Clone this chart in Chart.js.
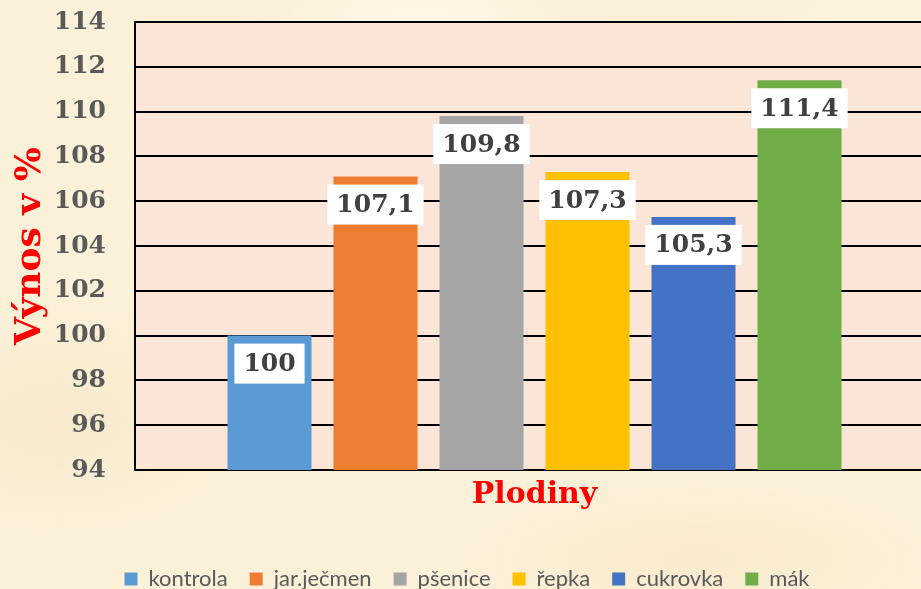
<!DOCTYPE html>
<html>
<head>
<meta charset="utf-8">
<script src="https://cdn.jsdelivr.net/npm/chart.js@4"></script>
<style>
  html, body { margin: 0; padding: 0; overflow: hidden; width: 921px; height: 589px; }
  body {
    background-color: #fbf0d8;
    background-image:
      radial-gradient(ellipse 180px 60px at 420px 20px, rgba(255,250,235,0.8), rgba(255,250,235,0)),
      radial-gradient(ellipse 200px 120px at 60px 420px, rgba(245,232,200,0.7), rgba(245,232,200,0)),
      radial-gradient(ellipse 250px 80px at 700px 560px, rgba(246,232,198,0.6), rgba(246,232,198,0)),
      radial-gradient(ellipse 150px 100px at 880px 40px, rgba(255,248,230,0.7), rgba(255,248,230,0));
  }
  #wrap { position: absolute; left: 0; top: 0; width: 936px; height: 600px; }
</style>
</head>
<body>
<div id="wrap"><canvas id="c" width="936" height="600"></canvas></div>
<script>
const categories = ['kontrola', 'jar.ječmen', 'pšenice', 'řepka', 'cukrovka', 'mák'];
const values = [100, 107.1, 109.8, 107.3, 105.3, 111.4];
const barColors = ['#5B9BD5', '#ED7D31', '#A5A5A5', '#FFC000', '#4472C4', '#70AD47'];
const yMin = 94, yMax = 114, yStep = 2;
const yTitle = 'Výnos v %';
const xTitle = 'Plodiny';

const serif = '"DejaVu Serif", "Liberation Serif", serif';

const plotBg = {
  id: 'plotBg',
  beforeDraw(chart) {
    const {ctx, chartArea: a} = chart;
    ctx.save();
    ctx.fillStyle = '#FAE5D7';
    ctx.fillRect(a.left, a.top, a.right - a.left, a.bottom - a.top);
    ctx.restore();
  }
};

const valueLabels = {
  id: 'valueLabels',
  afterDatasetsDraw(chart) {
    const ctx = chart.ctx;
    ctx.save();
    ctx.font = 'bold 25px ' + serif;
    ctx.textAlign = 'center';
    ctx.textBaseline = 'middle';
    chart.data.datasets.forEach((ds, i) => {
      const meta = chart.getDatasetMeta(i);
      const bar = meta.data[0];
      const txt = String(ds.data[0]).replace('.', ',');
      const w = ctx.measureText(txt).width + 18;
      const h = 40;
      const top = bar.y + 8;
      ctx.fillStyle = '#FFFFFF';
      ctx.fillRect(bar.x - w / 2, top, w, h);
      ctx.fillStyle = '#404040';
      ctx.fillText(txt, bar.x, top + h / 2 + 1);
    });
    ctx.restore();
  }
};

new Chart(document.getElementById('c'), {
  type: 'bar',
  data: {
    labels: [''],
    datasets: categories.map((name, i) => ({
      label: name,
      data: [values[i]],
      backgroundColor: barColors[i],
      borderWidth: 0
    }))
  },
  options: {
    responsive: false,
    animation: false,
    devicePixelRatio: 1,
    categoryPercentage: 0.796,
    barPercentage: 0.7925,
    layout: { padding: { top: 22, right: 2, left: 0, bottom: 0 } },
    plugins: {
      legend: {
        position: 'bottom',
        labels: {
          boxWidth: 13,
          boxHeight: 13,
          padding: 22,
          color: '#595959',
          font: { family: 'Lato, "Open Sans", sans-serif', size: 22 }
        }
      },
      tooltip: { enabled: false }
    },
    scales: {
      x: {
        grid: { display: false, drawTicks: false },
        border: { display: true, color: '#000000', width: 2 },
        ticks: { display: false },
        title: {
          display: true,
          text: xTitle,
          color: '#FF0000',
          font: { family: serif, size: 30, weight: 'bold' },
          padding: { top: 7, bottom: 33 }
        }
      },
      y: {
        min: yMin,
        max: yMax,
        ticks: {
          stepSize: yStep,
          color: '#595959',
          padding: 0,
          font: { family: serif, size: 25, weight: 'bold' }
        },
        grid: { color: '#000000', lineWidth: 2, drawTicks: true, tickLength: 29, tickColor: 'rgba(0,0,0,0)' },
        border: { display: true, color: '#000000', width: 2 },
        title: {
          display: true,
          text: yTitle,
          color: '#FF0000',
          font: { family: serif, size: 36, weight: 'bold' },
          padding: { top: 9, bottom: 0 }
        },
        afterFit(scale) { scale.width = 135; }
      }
    }
  },
  plugins: [plotBg, valueLabels]
});
</script>
</body>
</html>
